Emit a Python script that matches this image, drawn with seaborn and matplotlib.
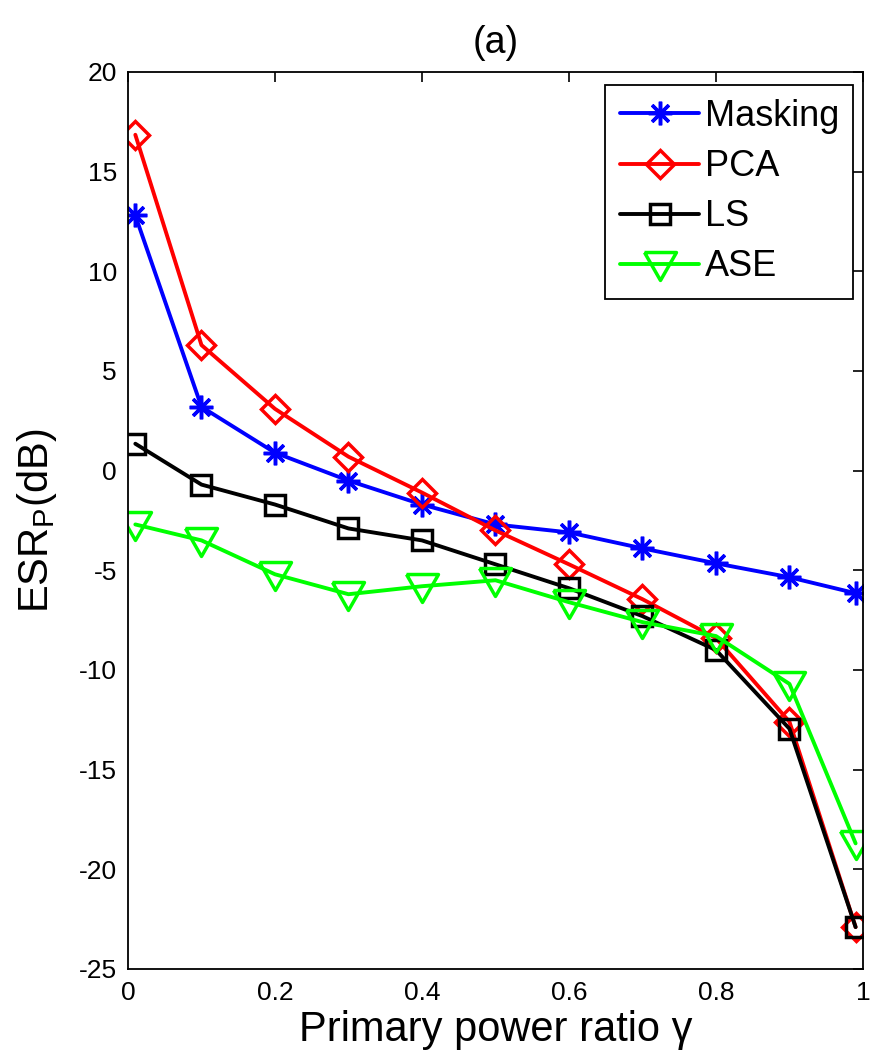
import numpy as np
import pandas as pd
import matplotlib
matplotlib.use("Agg")
import matplotlib.pyplot as plt
import seaborn as sns

# ---- data ----
gamma = [0.01, 0.1, 0.2, 0.3, 0.4, 0.5, 0.6, 0.7, 0.8, 0.9, 0.99]
masking = [12.8, 3.2, 0.9, -0.5, -1.7, -2.7, -3.1, -3.9, -4.65, -5.35, -6.15]
pca = [16.85, 6.3, 3.1, 0.7, -1.1, -3.0, -4.7, -6.45, -8.4, -12.6, -22.9]
ls = [1.35, -0.7, -1.7, -2.9, -3.5, -4.7, -5.9, -7.3, -9.0, -12.95, -22.9]
ase = [-2.7, -3.5, -5.2, -6.2, -5.8, -5.5, -6.6, -7.6, -8.3, -10.7, -18.7]
series_names = ["Masking", "PCA", "LS", "ASE"]
xticks = [0, 0.2, 0.4, 0.6, 0.8, 1]
yticks = [-25, -20, -15, -10, -5, 0, 5, 10, 15, 20]

sns.set_theme(style="white")
plt.rcParams["font.family"] = ["Liberation Sans", "DejaVu Sans"]
plt.rcParams["mathtext.fontset"] = "custom"
plt.rcParams["mathtext.rm"] = "Liberation Sans"
plt.rcParams["mathtext.it"] = "Liberation Sans:italic"
plt.rcParams["text.color"] = "black"
plt.rcParams["axes.labelcolor"] = "black"
plt.rcParams["legend.labelcolor"] = "black"

fig = plt.figure(figsize=(8.73, 10.57), dpi=100)
ax = fig.add_axes([0.1466, 0.0833, 0.8419, 0.8486])

tri = [(-1, 0.75), (1, 0.75), (0, -1.0), (-1, 0.75)]
styles = {
    "Masking": dict(color=(0, 0, 1), marker=(8, 2, 0), ms=17),
    "PCA": dict(color=(1, 0, 0), marker="D", ms=14),
    "LS": dict(color=(0, 0, 0), marker="s", ms=15),
    "ASE": dict(color=(0, 1, 0), marker=tri, ms=23),
}
values = {"Masking": masking, "PCA": pca, "LS": ls, "ASE": ase}

for name in series_names:
    st = styles[name]
    df = pd.DataFrame({"x": gamma, "y": values[name]})
    sns.lineplot(data=df, x="x", y="y", ax=ax, color=st["color"],
                 marker=st["marker"], markersize=st["ms"],
                 markerfacecolor="none", markeredgecolor=st["color"],
                 markeredgewidth=2.5, linewidth=2.8, label=name,
                 sort=False, estimator=None)

ax.set_xlim(0, 1)
ax.set_ylim(-25, 20)
ax.set_xticks(xticks)
ax.set_xticklabels(["0", "0.2", "0.4", "0.6", "0.8", "1"])
ax.set_yticks(yticks)
ax.set_yticklabels([str(v) for v in yticks])
ax.tick_params(direction="in", length=7, width=1.2, top=True, right=True,
               labelsize=19, colors="black")
ax.tick_params(axis="x", pad=9)
ax.tick_params(axis="y", pad=8)
for sp in ax.spines.values():
    sp.set_color("black")
    sp.set_linewidth(1.3)

ax.set_xlabel("Primary power ratio γ", fontsize=30, color="black", labelpad=3)
ax.set_ylabel(r"ESR$_\mathrm{P}$(dB)", fontsize=30, color="black", labelpad=14)
ax.set_title("(a)", fontsize=27, color="black", pad=14)

leg = ax.legend(loc="upper right", bbox_to_anchor=(0.987, 0.986),
                borderaxespad=0, fontsize=26, frameon=True, fancybox=False,
                handlelength=2.2, labelspacing=0.42, handletextpad=0.15,
                borderpad=0.4)
leg.get_frame().set_edgecolor("black")
leg.get_frame().set_linewidth(1.3)
leg.get_frame().set_alpha(1)
for t in leg.get_texts():
    t.set_color("black")

fig.savefig("out.png", dpi=100)
